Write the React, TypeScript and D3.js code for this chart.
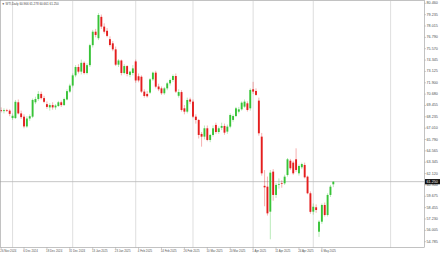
import React from "react";
import * as d3 from "d3";

const dates = [
  "2024-11-26","2024-11-27","2024-11-28","2024-11-29","2024-12-02","2024-12-03","2024-12-04","2024-12-05","2024-12-06",
  "2024-12-09","2024-12-10","2024-12-11","2024-12-12","2024-12-13","2024-12-16","2024-12-17","2024-12-18","2024-12-19","2024-12-20",
  "2024-12-23","2024-12-24","2024-12-26","2024-12-27","2024-12-30","2024-12-31","2025-01-02","2025-01-03",
  "2025-01-06","2025-01-07","2025-01-08","2025-01-09","2025-01-10","2025-01-13","2025-01-14","2025-01-15","2025-01-16","2025-01-17",
  "2025-01-20","2025-01-21","2025-01-22","2025-01-23","2025-01-24","2025-01-27","2025-01-28","2025-01-29","2025-01-30","2025-01-31",
  "2025-02-03","2025-02-04","2025-02-05","2025-02-06","2025-02-07","2025-02-10","2025-02-11","2025-02-12","2025-02-13","2025-02-14",
  "2025-02-17","2025-02-18","2025-02-19","2025-02-20","2025-02-21","2025-02-24","2025-02-25","2025-02-26","2025-02-27","2025-02-28",
  "2025-03-03","2025-03-04","2025-03-05","2025-03-06","2025-03-07","2025-03-10","2025-03-11","2025-03-12","2025-03-13","2025-03-14",
  "2025-03-17","2025-03-18","2025-03-19","2025-03-20","2025-03-21","2025-03-24","2025-03-25","2025-03-26","2025-03-27","2025-03-28",
  "2025-03-31","2025-04-01","2025-04-02","2025-04-03","2025-04-04","2025-04-07","2025-04-08","2025-04-09","2025-04-10","2025-04-11",
  "2025-04-14","2025-04-15","2025-04-16","2025-04-17","2025-04-21","2025-04-22","2025-04-23","2025-04-24","2025-04-25",
  "2025-04-28","2025-04-29","2025-04-30","2025-05-01","2025-05-02","2025-05-05","2025-05-06","2025-05-07","2025-05-08","2025-05-09",
  "2025-05-12",
];

const open = [
  68.95,68.85,68.95,68.9,68.1,68.1,69.8,68.6,68.25,
  67.2,68.05,68.25,69.8,70.15,70.7,70.25,69.6,69.25,69.5,
  69.25,69.4,69.8,69.5,70.1,70.95,71.6,72.7,
  73.6,73.1,74.05,72.95,73.8,75.95,77.4,76.7,79.0,77.95,
  77.5,76.6,76.15,75.5,73.85,74.3,72.95,73.7,72.75,72.95,
  74.2,72.6,72.55,70.95,70.7,70.84,72.27,72.99,71.5,71.3,
  70.77,71.3,71.84,72.2,72.63,70.5,70.9,69.15,68.79,70.1,
  69.87,68.25,67.89,66.39,66.1,67.0,65.74,66.28,67.36,66.6,
  67.05,67.25,66.64,67.18,67.9,68.32,68.79,69.04,69.33,69.69,
  69.15,71.2,71.02,69.98,66.1,60.8,60.71,58.02,62.33,59.82,
  61.0,61.1,61.07,61.97,63.51,63.3,63.66,62.15,62.8,
  63.05,61.79,60.0,58.02,58.49,55.86,56.94,58.74,57.66,59.82,
  60.966,
];
const high = [
  69.25,69.15,69.1,69.05,68.6,70.05,70.1,68.9,68.5,
  68.3,68.5,70.2,70.4,71.0,70.95,70.5,69.9,69.7,69.8,
  69.6,69.95,70.0,70.3,71.2,71.8,72.9,73.8,
  73.9,74.4,74.2,74.0,76.1,77.6,77.7,79.4,79.25,78.3,
  77.8,76.9,76.4,75.8,74.45,74.4,73.9,73.8,73.2,73.8,
  74.4,72.9,72.7,71.2,71.0,72.4,73.1,73.2,71.8,71.5,
  71.45,72.0,72.35,72.8,72.9,71.2,71.1,69.5,70.3,70.3,
  70.1,68.5,68.0,66.6,67.3,67.3,66.4,67.3,67.6,67.2,
  67.6,67.5,67.4,68.6,68.5,69.3,69.3,69.9,70.1,69.9,
  71.3,72.0,71.3,70.3,66.5,62.5,61.8,62.5,62.6,61.1,
  61.6,61.4,62.0,63.8,63.7,63.5,64.84,63.1,63.3,
  63.3,61.9,60.2,58.9,58.8,57.1,58.9,59.0,60.0,60.9,
  61.278,
];
const low = [
  68.7,68.6,68.75,68.3,67.9,68.0,68.5,68.0,67.0,
  67.05,67.8,68.1,69.6,69.95,70.1,69.7,69.1,68.9,69.0,
  69.0,69.3,69.3,69.4,70.0,70.8,71.4,72.5,
  72.9,72.8,72.8,72.8,73.6,75.7,76.8,76.5,77.7,77.2,
  76.8,75.8,75.3,73.7,73.6,72.7,72.8,72.6,72.5,72.7,
  71.9,71.95,70.8,70.3,70.3,70.7,72.1,71.3,71.0,70.6,
  70.6,71.1,71.6,72.0,70.8,70.3,68.8,68.5,68.6,69.6,
  68.1,67.5,65.9,65.02,65.8,65.6,65.5,66.1,66.4,66.4,
  66.8,66.3,66.4,67.0,67.7,68.2,68.6,68.9,69.2,68.8,
  68.9,70.7,70.5,66.2,61.9,58.6,57.6,55.04,59.2,59.5,
  60.5,60.6,60.9,61.8,62.5,62.0,62.3,61.9,62.6,
  61.6,59.9,57.8,57.7,57.9,55.3,56.7,57.5,57.5,59.6,
  60.661,
];
const close = [
  68.85,68.95,68.9,68.55,68.35,69.85,68.6,68.2,67.2,
  68.05,68.3,70.05,70.15,70.7,70.25,69.85,69.3,69.5,69.25,
  69.45,69.8,69.5,70.15,71.0,71.6,72.7,73.6,
  73.1,74.05,72.95,73.8,75.95,77.4,77.05,79.2,77.95,77.4,
  76.95,75.97,75.5,73.85,74.3,72.95,73.7,72.85,73.1,73.45,
  72.15,72.15,70.95,70.48,70.45,72.27,72.99,71.48,71.2,70.77,
  71.3,71.84,72.2,72.63,70.95,70.9,68.97,68.79,70.05,69.87,
  68.25,67.89,66.28,66.1,67.0,65.74,66.28,67.0,66.6,67.0,
  67.25,66.53,67.18,68.43,68.32,69.15,69.04,69.76,69.87,68.97,
  71.13,70.95,70.59,66.46,62.15,60.64,57.84,62.22,59.82,60.9,
  61.0,61.05,61.79,63.66,62.69,62.15,62.51,62.94,63.15,
  61.72,60.0,58.0,58.55,58.2,56.94,58.74,57.66,59.82,60.71,
  61.25,
];

const priceTicks = [
  "80.460","79.235","78.015","76.790","75.570","74.345","73.125","71.900","70.680","69.455","68.235",
  "67.010","65.790","64.565","63.345","62.120","60.900","59.675","58.455","57.230","56.005","54.785",
];
const gridBarIndex = [4, 25, 47, 67, 88, 109, 136];
const labelEvery = 8;
const symbolTitle = "WTI,Daily";
const bidPrice = 61.25;
const lastOHLC = ["60.966", "61.278", "60.661", "61.250"];

const W = 440;
const H = 254;
const plotRight = 424.5;
const plotBottom = 247.5;

const monthNames = ["Jan","Feb","Mar","Apr","May","Jun","Jul","Aug","Sep","Oct","Nov","Dec"];
function fmtDate(s: string) {
  const [y, m, d] = s.split("-").map(Number);
  return `${d} ${monthNames[m - 1]} ${y}`;
}

export default function App() {
  const x = d3.scaleLinear().domain([0, 136]).range([1.1, 1.1 + 2.864 * 136]);
  const y = d3.scaleLinear().domain([54.785, 80.46]).range([241.7, 3.3]);
  const bodyW = 1.9;
  const up = "#37c337";
  const dn = "#e41e1e";

  const labelIdx = d3.range(0, dates.length, labelEvery);

  return (
    <svg width={W} height={H} style={{ position: "absolute", left: 0, top: 0, background: "#fff" }}
      fontFamily="Liberation Sans, Arial, sans-serif">
      <rect x={0} y={0} width={W} height={H} fill="#fff" />
      {/* vertical grid */}
      {gridBarIndex.map((gi) => (
        <line key={"g" + gi} x1={x(gi)} x2={x(gi)} y1={1} y2={plotBottom} stroke="#d6d6d6" strokeWidth={0.8} />
      ))}
      {/* bid line */}
      <line x1={0} x2={plotRight} y1={y(bidPrice)} y2={y(bidPrice)} stroke="#b8b8b8" strokeWidth={0.8} />
      {/* candles */}
      {dates.map((dt, i) => {
        const o = open[i], c = close[i], h = high[i], l = low[i];
        const col = c >= o ? up : dn;
        const cx = x(i);
        const top = y(Math.max(o, c));
        const bh = Math.max(0.7, Math.abs(y(o) - y(c)));
        return (
          <g key={dt}>
            <line x1={cx} x2={cx} y1={y(h)} y2={y(l)} stroke={col} strokeOpacity={0.5} strokeWidth={0.7} />
            <rect x={cx - bodyW / 2} y={top} width={bodyW} height={bh} fill={col} />
          </g>
        );
      })}
      {/* frame */}
      <rect x={0.5} y={0.5} width={plotRight - 0.5} height={plotBottom - 0.5} fill="none" stroke="#9a9a9a" strokeWidth={0.6} />
      {/* price axis */}
      {priceTicks.map((t) => (
        <g key={t}>
          <line x1={plotRight} x2={plotRight + 1.5} y1={y(+t)} y2={y(+t)} stroke="#9a9a9a" strokeWidth={0.5} />
          <text x={426.5} y={y(+t)} dominantBaseline="central" fontSize={3.7} fill="#505050">{t}</text>
        </g>
      ))}
      <rect x={425} y={y(bidPrice) - 2.6} width={15} height={5.2} fill="#111" />
      <text x={426.5} y={y(bidPrice)} dominantBaseline="central" fontSize={3.7} fill="#fff">{lastOHLC[3]}</text>
      {/* time axis */}
      {labelIdx.map((i) => (
        <g key={"d" + i}>
          <line x1={x(i)} x2={x(i)} y1={plotBottom} y2={plotBottom + 1.5} stroke="#9a9a9a" strokeWidth={0.5} />
          <text x={x(i) - 0.8} y={252.3} fontSize={2.85} fill="#505050">{fmtDate(dates[i])}</text>
        </g>
      ))}
      {/* header */}
      <text x={1.8} y={4.6} fontSize={3} fill="#444">{"\u25BC " + symbolTitle + " " + lastOHLC.join(" ")}</text>
    </svg>
  );
}
